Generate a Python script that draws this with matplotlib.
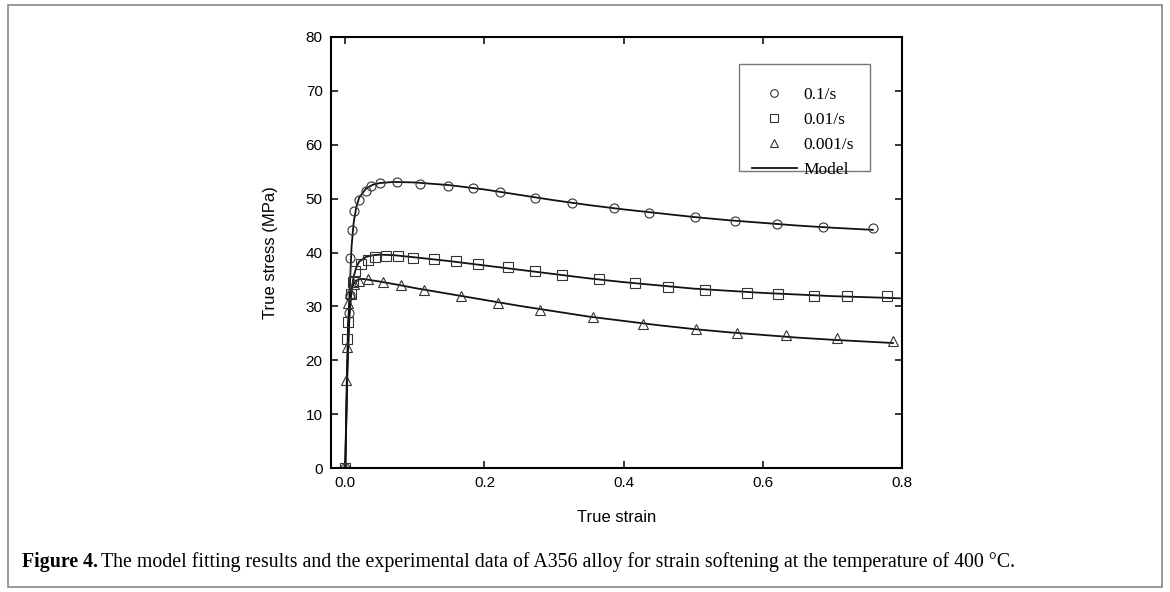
import matplotlib
matplotlib.use('Agg')
import matplotlib.pyplot as plt
from matplotlib.lines import Line2D
from matplotlib.patches import Rectangle

# experimental points
x_01 = [0.0, 0.006, 0.007, 0.007, 0.009, 0.012, 0.020, 0.030, 0.037, 0.050, 0.075, 0.107,
        0.147, 0.183, 0.222, 0.272, 0.326, 0.386, 0.437, 0.502, 0.560, 0.621, 0.686, 0.759]
y_01 = [0.0, 28.7, 32.1, 39.0, 44.2, 47.7, 49.8, 51.4, 52.3, 52.9, 53.0, 52.7,
        52.4, 51.9, 51.2, 50.1, 49.2, 48.2, 47.3, 46.6, 45.8, 45.2, 44.7, 44.6]

x_001 = [0.0, 0.003, 0.004, 0.008, 0.011, 0.014, 0.022, 0.032, 0.043, 0.058, 0.076, 0.098,
         0.127, 0.159, 0.191, 0.234, 0.272, 0.311, 0.365, 0.416, 0.464, 0.517, 0.577, 0.622,
         0.673, 0.721, 0.778]
y_001 = [0.0, 23.9, 27.1, 32.3, 34.6, 36.6, 37.9, 38.6, 39.2, 39.4, 39.3, 39.0,
         38.8, 38.4, 37.8, 37.3, 36.5, 35.9, 35.0, 34.3, 33.6, 33.1, 32.5, 32.3,
         32.0, 32.0, 31.9]

x_0001 = [0.0, 0.001, 0.002, 0.004, 0.007, 0.013, 0.020, 0.032, 0.054, 0.080, 0.113, 0.167,
          0.220, 0.280, 0.356, 0.428, 0.504, 0.563, 0.633, 0.706, 0.787]
y_0001 = [0.0, 16.3, 22.4, 30.6, 32.4, 34.1, 34.7, 35.0, 34.5, 33.9, 33.0, 31.9,
          30.6, 29.3, 28.0, 26.7, 25.8, 25.0, 24.6, 24.1, 23.6]

# model curves
mx_01 = [0.0, 0.003, 0.006, 0.009, 0.012, 0.016, 0.02, 0.03, 0.04, 0.05, 0.07, 0.1, 0.15,
         0.2, 0.25, 0.3, 0.35, 0.4, 0.45, 0.5, 0.55, 0.6, 0.65, 0.7, 0.758]
my_01 = [0.0, 18.0, 32.0, 41.0, 45.5, 48.5, 50.2, 51.9, 52.6, 52.9, 53.1, 53.0, 52.5,
         51.7, 50.7, 49.7, 48.8, 48.0, 47.3, 46.6, 46.0, 45.5, 45.0, 44.6, 44.2]

mx_001 = [0.0, 0.003, 0.006, 0.009, 0.012, 0.016, 0.02, 0.03, 0.04, 0.05, 0.07, 0.1, 0.15,
          0.2, 0.25, 0.3, 0.35, 0.4, 0.45, 0.5, 0.55, 0.6, 0.65, 0.7, 0.75, 0.797]
my_001 = [0.0, 18.0, 28.0, 33.0, 35.5, 37.3, 38.3, 39.2, 39.5, 39.6, 39.5, 39.1, 38.4,
          37.6, 36.8, 36.0, 35.2, 34.5, 33.9, 33.3, 32.9, 32.5, 32.2, 31.9, 31.7, 31.5]

mx_0001 = [0.0, 0.002, 0.004, 0.006, 0.009, 0.012, 0.016, 0.02, 0.025, 0.03, 0.05, 0.08,
           0.1, 0.15, 0.2, 0.25, 0.3, 0.35, 0.4, 0.45, 0.5, 0.55, 0.6, 0.65, 0.7, 0.787]
my_0001 = [0.0, 15.0, 27.0, 31.0, 33.2, 34.2, 34.8, 35.0, 35.1, 35.0, 34.6, 33.9,
           33.4, 32.3, 31.2, 30.1, 29.1, 28.1, 27.3, 26.5, 25.8, 25.2, 24.7, 24.2, 23.8, 23.2]

labels = ['0.1/s', '0.01/s', '0.001/s', 'Model']

plt.rcParams['font.family'] = ['Liberation Sans', 'DejaVu Sans']

fig = plt.figure(figsize=(11.7, 5.92), dpi=100)
ax = fig.add_axes([331 / 1170, 1 - 468 / 592, 571 / 1170, 431 / 592])

mk = dict(linestyle='none', markerfacecolor='none', markeredgecolor='#333333',
          markeredgewidth=0.8, markersize=6.5)
ln = dict(color='#111111', linewidth=1.3)

ax.plot(mx_01, my_01, **ln)
ax.plot(mx_001, my_001, **ln)
ax.plot(mx_0001, my_0001, **ln)
ax.plot(x_01, y_01, marker='o', **mk)
ax.plot(x_001, y_001, marker='s', **mk)
ax.plot(x_0001, y_0001, marker='^', **mk)

ax.set_xlim(-0.0205, 0.8)
ax.set_ylim(0, 80)
ax.set_xticks([0.0, 0.2, 0.4, 0.6, 0.8])
ax.set_yticks(range(0, 81, 10))
ax.tick_params(direction='in', length=5, width=1.1, labelsize=11,
               top=True, right=True, pad=6)
for s in ax.spines.values():
    s.set_linewidth(1.5)
ax.set_xlabel('True strain', fontsize=12, labelpad=14)
ax.set_ylabel('True stress (MPa)', fontsize=12, labelpad=20)

# legend (frame drawn separately)
handles = [Line2D([], [], marker='o', **dict(mk, markersize=5.5)),
           Line2D([], [], marker='s', **dict(mk, markersize=5.5)),
           Line2D([], [], marker='^', **dict(mk, markersize=5.5)),
           Line2D([], [], **ln)]
leg = ax.legend(handles, labels, loc='upper left', bbox_to_anchor=(0.737, 0.884),
                frameon=False, borderpad=0, borderaxespad=0, handlelength=2.6,
                handletextpad=0.35, labelspacing=0.5,
                prop={'family': 'Liberation Serif', 'size': 12.5})
ax.add_patch(Rectangle((0.7145, 0.690), 0.2295, 0.247, transform=ax.transAxes,
                       fill=False, edgecolor='#777777', linewidth=1.0))

# caption
cy = 1 - 562 / 592
t1 = fig.text(22 / 1170, cy, 'Figure 4.', fontsize=14.3, fontweight='bold',
              family='Liberation Serif', va='center')
fig.canvas.draw()
bb = t1.get_window_extent()
fig.text((bb.x1 + 3) / 1170, cy,
         'The model fitting results and the experimental data of A356 alloy for strain '
         'softening at the temperature of 400 \u00b0C.',
         fontsize=14.3, family='Liberation Serif', va='center')

# outer frame
fig.patches.append(Rectangle((8 / 1170, 5 / 592), 1154 / 1170, 582 / 592,
                             transform=fig.transFigure, fill=False,
                             edgecolor='#888888', linewidth=1.2))

fig.savefig('out.png', dpi=100)
